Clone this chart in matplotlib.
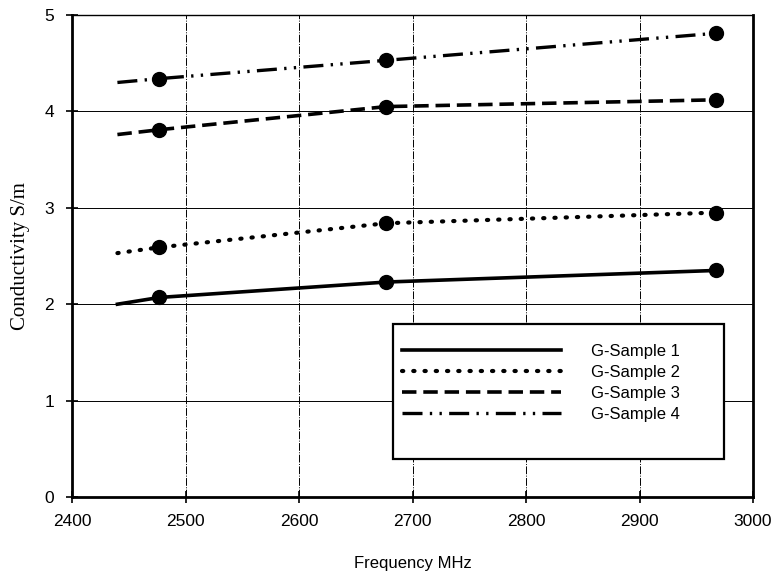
import matplotlib
matplotlib.use("Agg")
import matplotlib.pyplot as plt
from matplotlib.patches import Rectangle

# Data (line start point + three measured frequencies)
freq = [2440, 2477, 2677, 2967]
marker_idx = [1, 2, 3]
sample1 = [2.00, 2.07, 2.23, 2.35]
sample2 = [2.53, 2.59, 2.84, 2.95]
sample3 = [3.76, 3.81, 4.05, 4.12]
sample4 = [4.30, 4.34, 4.53, 4.81]
labels = ["G-Sample 1", "G-Sample 2", "G-Sample 3", "G-Sample 4"]
xticks = [2400, 2500, 2600, 2700, 2800, 2900, 3000]
yticks = [0, 1, 2, 3, 4, 5]

fig = plt.figure(figsize=(7.76, 5.79), dpi=100)
ax = fig.add_axes([0.0928, 0.1416, 0.8776, 0.8325])

styles = [
    dict(linestyle='-', linewidth=2.6),
    dict(linestyle=(0, (0.3, 2.4)), linewidth=3.0, dash_capstyle='round'),
    dict(linestyle=(0, (4, 1.9)), linewidth=2.6),
    dict(linestyle=(0, (6.0, 2.2, 0.7, 2.2, 0.7, 2.2)), linewidth=2.4),
]
series = [sample1, sample2, sample3, sample4]
handles = []
for s, st, lab in zip(series, styles, labels):
    h, = ax.plot(freq, s, color='black', label=lab, **st)
    ax.plot([freq[i] for i in marker_idx], [s[i] for i in marker_idx],
            linestyle='none', marker='o', markersize=10, color='black')
    handles.append(h)

ax.set_xlim(2400, 3000)
ax.set_ylim(0, 5)
ax.set_xticks(xticks)
ax.set_yticks(yticks)
for y in yticks[1:-1]:
    ax.axhline(y, color='black', linewidth=0.7, zorder=0)
for x in xticks[1:-1]:
    ax.axvline(x, color='black', linewidth=0.7, linestyle=(0, (8, 1.5, 1, 1.5)), zorder=0)

for side in ['left', 'bottom', 'right']:
    ax.spines[side].set_linewidth(2.0)
ax.spines['top'].set_linewidth(1.0)
ax.tick_params(direction='inout', length=8, width=1.2, labelsize=12.5)
for lbl in ax.get_xticklabels() + ax.get_yticklabels():
    lbl.set_fontfamily('Liberation Sans')
ax.tick_params(axis='y', pad=9)
ax.tick_params(axis='x', pad=8)

ax.set_ylabel('Conductivity S/m', fontfamily='Liberation Serif', fontsize=15, labelpad=10)
ax.set_xlabel('Frequency MHz', fontfamily='Liberation Sans', fontsize=12, labelpad=20)

# Legend box
ax.add_patch(Rectangle((0.471, 0.079), 0.486, 0.280, transform=ax.transAxes,
                       facecolor='white', edgecolor='black', linewidth=1.6, zorder=5))
leg = ax.legend(handles=handles, loc='upper left', bbox_to_anchor=(0.485, 0.318),
                frameon=False, handlelength=9.5, handletextpad=1.8,
                labelspacing=0.36, prop={'family': 'Liberation Sans', 'size': 12},
                borderaxespad=0, borderpad=0)
leg.set_zorder(6)

fig.savefig('out.png', dpi=100)
